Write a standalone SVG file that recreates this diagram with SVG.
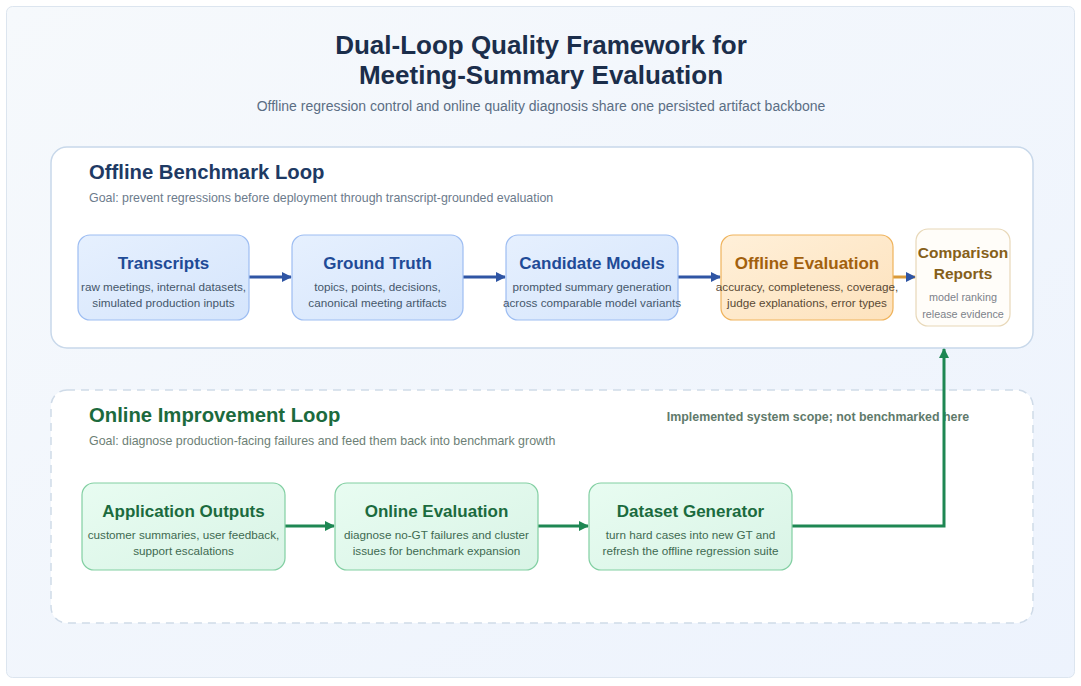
<svg xmlns="http://www.w3.org/2000/svg" width="1081" height="686" viewBox="0 0 1081 686">
<defs>
<linearGradient id="bg" x1="0" y1="0" x2="1" y2="1"><stop offset="0" stop-color="#f6f9fc"/><stop offset="1" stop-color="#edf3fd"/></linearGradient>
<linearGradient id="gBlue" x1="0" y1="0" x2="1" y2="1"><stop offset="0" stop-color="#e6f0fe"/><stop offset="1" stop-color="#d5e5fc"/></linearGradient>
<linearGradient id="gOrange" x1="0" y1="0" x2="1" y2="1"><stop offset="0" stop-color="#fff0d9"/><stop offset="1" stop-color="#fde2bd"/></linearGradient>
<linearGradient id="gGreen" x1="0" y1="0" x2="1" y2="1"><stop offset="0" stop-color="#e8fcf1"/><stop offset="1" stop-color="#d9f4e6"/></linearGradient>
<marker id="ahBlue" viewBox="0 0 10 10" refX="9" refY="5" markerWidth="10" markerHeight="10" markerUnits="userSpaceOnUse" orient="auto"><path d="M0,0 L10,5 L0,10 z" fill="#2f55a4"/></marker>
<marker id="ahGreen" viewBox="0 0 10 10" refX="9" refY="5" markerWidth="10" markerHeight="10" markerUnits="userSpaceOnUse" orient="auto"><path d="M0,0 L10,5 L0,10 z" fill="#1e8753"/></marker>
</defs>
<style>
text{font-family:"Liberation Sans",Arial,sans-serif}
.title{font-size:26px;font-weight:bold;fill:#1b2e4b;text-anchor:middle}
.sub{font-size:14px;fill:#5b6e84;text-anchor:middle}
.secB{font-size:20.3px;font-weight:bold;fill:#1e3a64}
.secG{font-size:20.3px;font-weight:bold;fill:#1c6a3d}
.goal{font-size:12.4px;fill:#6c7b8c}
.nb{fill:url(#gBlue);stroke:#9dbdf2;stroke-width:1.2}
.no{fill:url(#gOrange);stroke:#efb35c;stroke-width:1.2}
.nr{fill:#fffdf9;stroke:#e8d8b8;stroke-width:1.2}
.ng{fill:url(#gGreen);stroke:#82cfa2;stroke-width:1.2}
.tb{font-size:17px;font-weight:bold;fill:#1f4b97;text-anchor:middle}
.to{font-size:17px;font-weight:bold;fill:#a2600d;text-anchor:middle}
.tr{font-size:15.5px;font-weight:bold;fill:#86601a;text-anchor:middle}
.tg{font-size:17px;font-weight:bold;fill:#1b6b3e;text-anchor:middle}
.db{font-size:11.7px;fill:#45576b;text-anchor:middle}
.do{font-size:11.7px;fill:#5a4a35;text-anchor:middle}
.dr{font-size:10.8px;fill:#7d828a;text-anchor:middle}
.dg{font-size:11.7px;fill:#3e6a51;text-anchor:middle}
.eb{fill:none;stroke:#2f55a4;stroke-width:3}
.eo{fill:none;stroke:#d99a3a;stroke-width:3}
.eg{fill:none;stroke:#1e8753;stroke-width:3}
</style>
<rect x="6.5" y="6.5" width="1068" height="671" rx="6" fill="url(#bg)" stroke="#dce5ef"/>
<text class="title" x="541" y="54">Dual-Loop Quality Framework for</text>
<text class="title" x="541" y="84">Meeting-Summary Evaluation</text>
<text class="sub" x="541" y="111">Offline regression control and online quality diagnosis share one persisted artifact backbone</text>

<g id="offline-panel">
<rect x="51" y="147" width="982" height="201" rx="16" fill="#ffffff" stroke="#c8d8ea" stroke-width="1.5"/>
<text class="secB" x="89" y="179">Offline Benchmark Loop</text>
<text class="goal" x="89" y="202">Goal: prevent regressions before deployment through transcript-grounded evaluation</text>
</g>
<g id="online-panel">
<rect x="51" y="390" width="982" height="233" rx="16" fill="#ffffff" stroke="#cfdbe8" stroke-width="1.5" stroke-dasharray="8,6"/>
<text class="secG" x="89" y="422">Online Improvement Loop</text>
<text class="goal" x="89" y="445" style="fill:#6d7f76">Goal: diagnose production-facing failures and feed them back into benchmark growth</text>
<text x="818" y="421" style="font-size:12.4px;font-weight:bold;fill:#5f7a6b;text-anchor:middle">Implemented system scope; not benchmarked here</text>
</g>

<g id="connectors">
<line class="eb" x1="249" y1="277" x2="291" y2="277" marker-end="url(#ahBlue)"/>
<line class="eb" x1="463" y1="277" x2="505" y2="277" marker-end="url(#ahBlue)"/>
<line class="eb" x1="678" y1="277" x2="720" y2="277" marker-end="url(#ahBlue)"/>
<line class="eo" x1="893" y1="277" x2="915" y2="277" marker-end="url(#ahBlue)"/>
<line class="eg" x1="285" y1="526" x2="334" y2="526" marker-end="url(#ahGreen)"/>
<line class="eg" x1="538" y1="526" x2="588" y2="526" marker-end="url(#ahGreen)"/>
<polyline class="eg" points="792,526 944,526 944,349" marker-end="url(#ahGreen)"/>
</g>

<g id="transcripts">
<rect class="nb" x="78" y="235" width="171" height="85" rx="12"/>
<text class="tb" x="163.5" y="269">Transcripts</text>
<text class="db" x="163.5" y="291">raw meetings, internal datasets,</text>
<text class="db" x="163.5" y="307">simulated production inputs</text>
</g>
<g id="ground-truth">
<rect class="nb" x="292" y="235" width="171" height="85" rx="12"/>
<text class="tb" x="377.5" y="269">Ground Truth</text>
<text class="db" x="377.5" y="291">topics, points, decisions,</text>
<text class="db" x="377.5" y="307">canonical meeting artifacts</text>
</g>
<g id="candidate-models">
<rect class="nb" x="506" y="235" width="172" height="85" rx="12"/>
<text class="tb" x="592" y="269">Candidate Models</text>
<text class="db" x="592" y="291">prompted summary generation</text>
<text class="db" x="592" y="307">across comparable model variants</text>
</g>
<g id="offline-evaluation">
<rect class="no" x="721" y="235" width="172" height="85" rx="12"/>
<text class="to" x="807" y="269">Offline Evaluation</text>
<text class="do" x="807" y="291">accuracy, completeness, coverage,</text>
<text class="do" x="807" y="307">judge explanations, error types</text>
</g>
<g id="comparison-reports">
<rect class="nr" x="916" y="229" width="94" height="97" rx="12"/>
<text class="tr" x="963" y="258">Comparison</text>
<text class="tr" x="963" y="279">Reports</text>
<text class="dr" x="963" y="301">model ranking</text>
<text class="dr" x="963" y="318">release evidence</text>
</g>

<g id="application-outputs">
<rect class="ng" x="82" y="483" width="203" height="87" rx="12"/>
<text class="tg" x="183.5" y="517">Application Outputs</text>
<text class="dg" x="183.5" y="539">customer summaries, user feedback,</text>
<text class="dg" x="183.5" y="555">support escalations</text>
</g>
<g id="online-evaluation">
<rect class="ng" x="335" y="483" width="203" height="87" rx="12"/>
<text class="tg" x="436.5" y="517">Online Evaluation</text>
<text class="dg" x="436.5" y="539">diagnose no-GT failures and cluster</text>
<text class="dg" x="436.5" y="555">issues for benchmark expansion</text>
</g>
<g id="dataset-generator">
<rect class="ng" x="589" y="483" width="203" height="87" rx="12"/>
<text class="tg" x="690.5" y="517">Dataset Generator</text>
<text class="dg" x="690.5" y="539">turn hard cases into new GT and</text>
<text class="dg" x="690.5" y="555">refresh the offline regression suite</text>
</g>
</svg>
